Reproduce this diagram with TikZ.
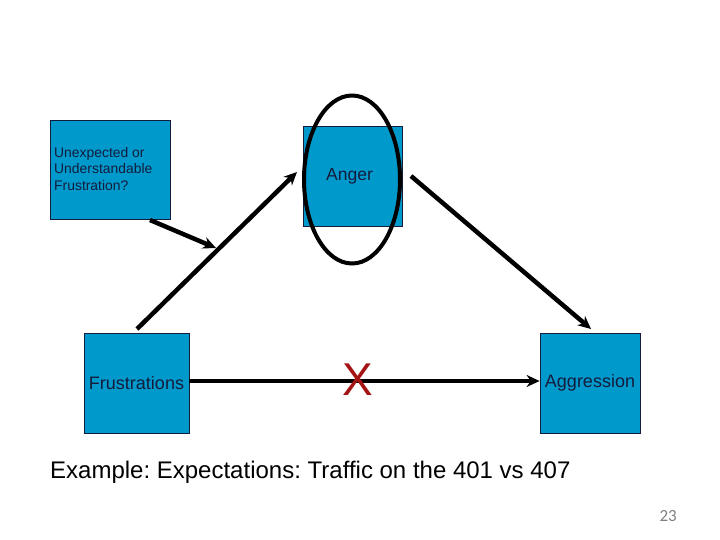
\documentclass[tikz,border=0pt]{standalone}
\usepackage{fontspec}
\setmainfont{Liberation Sans}
\newfontfamily\pagefont{Carlito}
\usepackage{xcolor}
\usetikzlibrary{arrows.meta}
\definecolor{boxblue}{RGB}{0,153,204}
\definecolor{boxtext}{RGB}{20,28,60}
\definecolor{crossred}{RGB}{165,20,20}
\tikzset{
	box/.style={draw=boxtext, fill=boxblue, line width=0.8pt, text=boxtext, inner sep=0pt},
	link/.style={line width=4.5pt, -{Stealth[length=13pt,width=12pt]}}
}
\frenchspacing

\begin{document}
\begin{tikzpicture}[x=1pt, y=-1pt]
	\useasboundingbox (0,0) rectangle (720,540);
	%boxes
	\node[box, minimum width=120pt, minimum height=99pt] (unexpected) at (110,169.5) {};
	\node[anchor=north west, align=left, text=boxtext, inner sep=0pt,
		font=\fontsize{13.9}{16.5}\selectfont] (unexpectedtext) at (54,147)
		{Unexpected or\\Understandable\\Frustration?};
	\node[box, minimum width=99pt, minimum height=100pt, font=\fontsize{17.5}{20}\selectfont] (anger) at (352.5,176) {\hspace*{-6pt}Anger};
	\node[box, minimum width=105pt, minimum height=100pt, font=\fontsize{18}{20}\selectfont] (frustrations) at (136.5,383) {\raisebox{1pt}{Frustrations}};
	\node[box, minimum width=100pt, minimum height=100pt, font=\fontsize{18}{20}\selectfont] (aggression) at (590,383) {\raisebox{2pt}{Aggression}};
	%
	%circle round anger
	\draw[line width=4pt] (352,179.5) ellipse (48pt and 84pt);
	%
	%connectors
	\coordinate (unexpectedout) at (150,220);
	\coordinate (crossing) at (216,248);
	\coordinate (frustout) at (137,329);
	\coordinate (angerin) at (297,172);
	\coordinate (angerout) at (411,176);
	\coordinate (aggressin) at (591,329);
	\draw[link] (frustout) -- (angerin);
	\draw[link] (unexpectedout) -- (crossing);
	\draw[link] (angerout) -- (aggressin);
	\draw[link] (frustrations.east |- 0,381) -- (aggression.west |- 0,381);
	%
	\node[text=crossred, font=\fontsize{46}{46}\selectfont, inner sep=0pt] (cross) at (358,380) {X};
	%
	%caption
	\node[anchor=base west, inner sep=0pt, font=\fontsize{24}{28}\selectfont] (example) at (50,478)
		{Example: Expectations: Traffic on the 401 vs 407};
	\node[anchor=base east, inner sep=0pt, text=gray, font=\pagefont\fontsize{17}{18}\selectfont] (page) at (677,521) {23};
\end{tikzpicture}
\end{document}
